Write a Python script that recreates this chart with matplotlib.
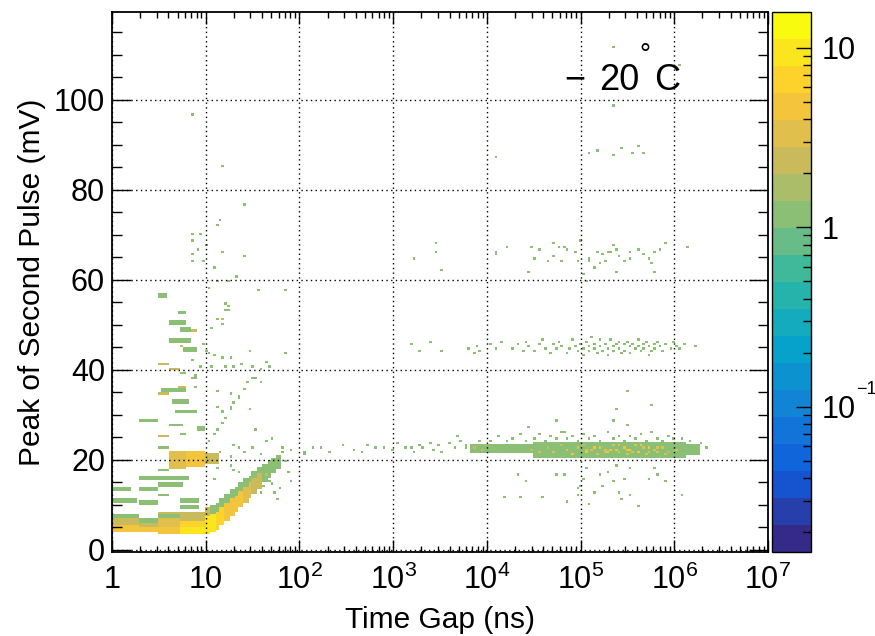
import numpy as np
import matplotlib
matplotlib.use('Agg')
import matplotlib.pyplot as plt
from matplotlib.colors import LinearSegmentedColormap, ListedColormap, LogNorm
from matplotlib.ticker import LogLocator, MultipleLocator, NullFormatter
from matplotlib.transforms import blended_transform_factory

plt.rcParams['font.family'] = ['Liberation Sans', 'DejaVu Sans']
plt.rcParams['mathtext.fontset'] = 'custom'
plt.rcParams['mathtext.rm'] = 'Liberation Sans'
plt.rcParams['mathtext.it'] = 'Liberation Sans:italic'

# ---- data ----------------------------------------------------------------
# gap is stored as log10(time gap / ns), peak in mV

# filled blocks: (lg0, lg1, v0, v1, entries per cell)
box_lg0 = [0.00, 0.00, 0.00, 0.30, 0.30, 0.30, 0.49, 0.49, 0.49, 0.74, 0.74, 0.74,
           1.00, 1.00, 1.05, 1.05, 1.10, 1.10, 1.15, 1.15, 1.20, 1.20, 1.25, 1.25,
           1.30, 1.30, 1.35, 1.35, 1.40, 1.40, 1.45, 1.45, 1.50, 1.50, 1.55, 1.55,
           1.60, 1.65, 1.70, 1.75,
           0.60, 0.78, 1.00,
           0.50, 0.70, 0.61, 0.72, 0.86, 0.61, 0.72, 0.76, 0.50, 0.62, 0.72, 0.85,
           0.70, 0.53, 0.50, 0.64, 0.67, 0.30, 0.90, 0.50, 0.72, 0.50, 0.30, 0.49,
           0.30, 0.00, 0.72, 0.30, 0.72, 0.49, 0.50, 0.00, 0.49, 0.62,
           3.82, 4.50, 6.12]
box_lg1 = [0.30, 0.30, 0.30, 0.49, 0.49, 0.49, 0.74, 0.74, 0.74, 1.00, 1.00, 1.00,
           1.05, 1.05, 1.10, 1.10, 1.15, 1.15, 1.20, 1.20, 1.25, 1.25, 1.30, 1.30,
           1.35, 1.35, 1.40, 1.40, 1.45, 1.45, 1.50, 1.50, 1.55, 1.55, 1.60, 1.60,
           1.65, 1.70, 1.75, 1.80,
           0.78, 1.00, 1.15,
           0.57, 0.80, 0.80, 0.86, 0.90, 0.85, 0.76, 0.90, 0.60, 0.72, 0.80, 0.90,
           0.80, 0.80, 0.62, 0.82, 0.90, 0.50, 1.00, 0.62, 0.78, 0.62, 0.82, 0.77,
           0.50, 0.27, 0.94, 0.50, 0.94, 0.72, 0.62, 0.20, 0.60, 0.75,
           4.50, 6.12, 6.27]
box_v0 = [7.0, 5.5, 4.0, 6.0, 5.0, 4.0, 7.0, 5.0, 3.5, 6.5, 5.0, 3.5,
          7.5, 3.5, 8.0, 4.0, 8.5, 4.5, 9.5, 5.5, 10.5, 6.5, 11.5, 7.5,
          12.0, 8.5, 13.0, 9.5, 14.0, 10.5, 15.0, 11.5, 16.0, 12.5, 17.0, 13.5,
          15.0, 16.0, 17.0, 18.0,
          18.0, 18.5, 19.0,
          56.2, 52.6, 49.8, 48.5, 48.3, 46.0, 45.0, 44.0, 41.0, 40.0, 39.0, 37.8,
          36.0, 35.0, 34.3, 32.3, 30.3, 28.3, 26.7, 25.0, 25.5, 17.3, 15.7, 14.2,
          13.2, 10.7, 10.7, 10.2, 9.2, 8.0, 22.3, 13.2, 12.0, 27.3,
          21.5, 20.5, 21.0]
box_v1 = [8.0, 7.0, 5.5, 7.0, 6.0, 5.0, 8.5, 7.0, 5.0, 8.5, 6.5, 5.0,
          9.5, 7.5, 10.0, 8.0, 10.5, 8.5, 11.5, 9.5, 12.5, 10.5, 13.5, 11.5,
          14.0, 12.0, 15.0, 13.0, 16.0, 14.0, 16.5, 15.0, 17.5, 16.0, 18.5, 17.0,
          19.0, 20.0, 20.5, 21.0,
          22.0, 22.0, 21.5,
          56.8, 53.2, 50.8, 49.3, 48.8, 46.8, 45.6, 45.0, 41.6, 40.6, 39.6, 38.3,
          36.6, 35.8, 34.8, 33.5, 31.0, 29.0, 27.3, 25.6, 26.1, 17.8, 16.3, 14.8,
          13.8, 11.3, 11.3, 10.8, 9.8, 8.6, 22.8, 13.8, 12.5, 27.8,
          23.5, 24.0, 23.5]
box_n = [1, 2, 4, 1, 2, 4, 1, 3, 5, 2, 6, 9,
         2, 9, 1, 8, 1, 7, 1, 6, 1, 5, 1, 5,
         1, 4, 1, 4, 1, 3, 1, 3, 1, 2, 1, 2,
         1, 1, 1, 1,
         3, 4, 2,
         1, 1, 1, 1, 2, 1, 2, 1, 2, 2, 1, 1,
         2, 1, 2, 1, 1, 1, 1, 2, 1, 1, 1, 1,
         1, 1, 1, 1, 1, 1, 1, 1, 1, 1,
         1, 1, 1]

# single entries, short gaps (< 100 ns)
short_lg = [1.03, 1.57, 1.25, 1.23, 1.13, 1.19, 1.17, 1.06, 0.98, 1.01, 1.03, 1.10,
            1.17, 1.26, 1.47, 1.86, 1.66, 0.87, 0.96, 1.07, 1.21, 1.31, 1.38, 1.49,
            1.58, 1.69, 0.886, 0.88, 1.13, 1.26, 1.37, 1.42, 1.49, 1.54, 1.60, 1.44,
            1.35, 1.28, 1.47, 1.13, 1.19, 1.295, 1.26, 1.224, 1.19, 1.13, 1.08, 1.045,
            1.54, 1.65, 1.72, 1.81, 1.83, 1.51, 1.58, 1.295, 1.37, 1.42, 1.26, 1.15,
            1.26, 1.295, 1.37, 1.12, 1.08, 1.65, 1.69, 1.74, 1.76, 1.62, 1.58, 2.15,
            2.06, 1.86, 1.22, 1.21, 1.18, 0.868, 1.188, 1.419, 1.16, 1.135, 0.87, 0.94,
            0.87, 0.92, 1.01, 0.87, 0.98, 1.08, 0.87, 1.18, 1.23, 1.33, 1.42, 0.72, 1.13,
            1.84, 1.88, 1.92, 1.79, 1.70]
short_v = [58.2, 57.7, 54.3, 53.0, 51.0, 51.0, 50.3, 49.3, 45.8, 44.4, 43.9, 43.3,
           42.5, 42.9, 44.4, 43.6, 41.8, 42.1, 40.7, 40.5, 40.5, 40.5, 41.4, 40.5,
           40.3, 40.9, 38.5, 36.2, 35.1, 34.8, 34.4, 35.9, 38.1, 38.1, 37.3, 37.3,
           33.6, 31.8, 31.4, 31.8, 30.7, 32.9, 31.0, 29.1, 28.0, 26.9, 25.8, 24.3,
           26.9, 24.3, 24.7, 22.9, 21.7, 22.5, 21.3, 23.3, 22.9, 21.8, 20.7, 21.5,
           18.9, 17.8, 17.0, 18.1, 15.8, 16.7, 15.2, 12.9, 11.4, 14.4, 12.9, 22.9,
           21.3, 57.8, 54.7, 53.0, 51.0, 96.9, 85.4, 76.9, 73.4, 72.1, 70.0, 70.0,
           68.5, 66.8, 67.8, 65.6, 64.3, 62.8, 64.1, 66.2, 59.6, 60.5, 65.3, 59.6, 59.6,
           19.6, 17.2, 15.4, 13.9, 14.6]

# single entries around 22 mV between 100 ns and 10 us
mid_lg = [1.90, 2.05, 2.22, 2.31, 2.45, 2.58, 2.66, 2.74, 2.82, 2.91, 3.00, 3.06,
          3.13, 3.18, 3.23, 3.29, 3.32, 3.39, 3.43, 3.48, 3.52, 3.61, 3.66, 3.70,
          3.73, 3.77, 3.79]
mid_v = [22.4, 21.6, 22.9, 21.9, 23.1, 22.2, 21.7, 23.4, 22.5, 22.9, 22.2, 23.7,
         22.9, 22.5, 21.8, 23.3, 22.5, 23.7, 22.2, 23.3, 21.8, 23.7, 22.9, 25.1,
         24.0, 22.5, 23.3]

# single entries on the edges of the 22 mV band and below it
band_lg = [3.87, 3.91, 3.95, 3.98, 4.05, 4.12, 4.20, 4.28, 4.35, 4.42, 4.50, 4.57,
           4.62, 4.68, 4.75, 4.80, 4.86, 4.92, 4.98, 5.04, 5.10, 5.16, 5.22, 5.28,
           5.34, 5.40, 5.46, 5.52, 5.58, 5.64, 5.70, 5.76, 5.82, 5.88, 5.94, 6.00,
           6.08, 6.18, 6.28, 6.35, 4.746, 5.51, 5.368, 5.77, 5.34, 5.49, 4.443, 4.835,
           4.32, 4.41, 4.73, 4.835, 4.96, 4.995, 5.03, 5.21, 5.28, 5.35, 5.386, 5.475,
           5.53, 5.42, 5.72, 5.777, 5.81, 5.92, 4.977, 4.176, 4.603, 5.155, 5.53, 6.08,
           5.24, 5.066, 4.37, 4.85, 5.10, 5.45, 5.62]
band_v = [22.9, 24.0, 22.2, 23.3, 24.3, 25.0, 24.4, 24.8, 25.5, 24.2, 24.6, 25.8,
          24.4, 25.1, 24.5, 26.0, 24.7, 25.3, 24.3, 25.7, 24.6, 25.2, 24.4, 26.2,
          24.8, 25.4, 24.3, 25.0, 24.6, 25.6, 24.4, 26.1, 24.9, 24.3, 25.2, 24.5,
          24.9, 24.2, 23.7, 22.5, 28.8, 35.1, 31.0, 32.0, 28.8, 27.7, 27.1, 26.4,
          16.8, 15.2, 16.5, 16.5, 13.7, 14.4, 15.9, 16.6, 17.0, 15.2, 18.5, 15.5,
          18.1, 12.9, 15.9, 18.1, 16.8, 15.2, 12.2, 11.8, 11.8, 12.6, 12.2, 12.2,
          14.4, 18.1, 11.8, 10.5, 10.2, 11.0, 9.8]

# cells with extra entries inside the 22 mV band
hot_lg = [4.48, 4.56, 4.64, 4.72, 4.79, 4.86, 4.92, 4.98, 5.03, 5.07, 5.12, 5.17,
          5.21, 5.26, 5.30, 5.34, 5.38, 5.42, 5.46, 5.50, 5.54, 5.58, 5.62, 5.66,
          5.70, 5.74, 5.78, 5.83, 5.88, 5.94, 6.01, 5.05, 5.15, 5.25, 5.33, 5.41,
          5.49, 5.57, 5.65, 5.73, 5.81, 5.90]
hot_v = [22.3, 21.6, 22.8, 21.9, 23.0, 22.1, 21.4, 22.6, 23.2, 21.8, 22.4, 21.2,
         22.9, 22.0, 21.5, 23.1, 22.2, 21.7, 22.7, 21.3, 22.4, 23.0, 21.9, 22.5,
         21.4, 22.8, 22.0, 21.6, 22.6, 21.8, 22.3, 22.0, 22.9, 21.6, 22.4, 23.3,
         22.1, 21.5, 23.2, 21.9, 22.7, 21.4]
hot_n = [1, 2, 1, 2, 1, 2, 3, 2, 1, 3, 2, 2,
         3, 2, 3, 2, 3, 2, 3, 2, 3, 2, 3, 2,
         2, 3, 2, 2, 2, 1, 2, 2, 3, 2, 3, 2,
         3, 2, 3, 2, 2, 2]

# single entries in the 45 mV band
b45_lg = [3.19, 3.28, 3.40, 3.51, 3.80, 3.85, 3.90, 3.93, 4.05, 4.10, 4.15, 4.28,
          4.33, 4.38, 4.43, 4.46, 4.52, 4.55, 4.60, 4.63, 4.67, 4.70, 4.74, 4.78,
          4.81, 4.85, 4.88, 4.91, 4.94, 4.97, 5.00, 5.02, 5.04, 5.06, 5.08, 5.10,
          5.12, 5.14, 5.16, 5.18, 5.20, 5.22, 5.24, 5.26, 5.28, 5.30, 5.32, 5.34,
          5.36, 5.38, 5.40, 5.42, 5.44, 5.46, 5.48, 5.50, 5.52, 5.54, 5.56, 5.58,
          5.60, 5.62, 5.64, 5.66, 5.68, 5.70, 5.72, 5.74, 5.76, 5.78, 5.80, 5.83,
          5.86, 5.89, 5.92, 5.95, 5.98, 6.02, 6.06, 6.12, 6.24]
b45_v = [45.7, 44.2, 46.2, 44.2, 44.5, 43.5, 45.0, 44.0, 45.5, 44.5, 46.0, 44.8,
         45.6, 44.0, 46.4, 45.0, 44.3, 45.6, 46.8, 44.8, 43.5, 45.9, 44.6, 46.4,
         45.2, 43.9, 44.9, 46.7, 45.4, 44.2, 45.9, 43.3, 44.8, 46.2, 45.3, 44.1,
         47.3, 45.8, 44.6, 43.6, 46.5, 45.1, 44.3, 45.9, 43.2, 44.8, 46.8, 45.4,
         44.1, 45.7, 46.3, 44.7, 43.6, 45.5, 44.4, 46.1, 45.0, 43.8, 45.8, 44.5,
         46.6, 45.2, 44.0, 45.6, 44.8, 46.2, 43.4, 45.1, 44.3, 45.9, 44.7, 46.4,
         45.3, 44.2, 45.7, 44.9, 46.0, 45.2, 44.5, 45.6, 45.4]

# single entries above 60 mV at long gaps
high_lg = [3.447, 3.465, 3.209, 3.508, 4.087, 4.105, 4.212, 4.468, 4.514, 4.55, 4.45, 4.64,
           4.703, 4.703, 4.78, 4.817, 4.81, 4.87, 4.94, 4.977, 5.01, 5.03, 5.06, 5.08,
           5.10, 5.137, 5.18, 5.21, 5.237, 5.26, 5.297, 5.315, 5.35, 5.386, 5.386, 5.414,
           5.457, 5.52, 5.536, 5.60, 5.67, 5.724, 5.75, 5.777, 5.795, 5.84, 5.92, 6.133,
           4.09, 5.10, 5.18, 5.34, 5.45, 5.55, 5.62, 5.68, 5.34, 6.04, 5.34]
high_v = [68.0, 66.2, 64.9, 62.3, 66.2, 65.8, 67.4, 67.4, 64.9, 66.6, 61.9, 64.3,
          68.0, 65.4, 67.4, 67.4, 64.3, 66.6, 66.2, 64.3, 68.9, 61.4, 59.5, 64.3,
          64.9, 62.7, 66.2, 63.6, 65.8, 64.3, 66.2, 66.2, 67.7, 66.6, 61.9, 65.1,
          64.0, 66.2, 64.7, 66.6, 65.8, 64.9, 63.6, 61.9, 66.2, 66.6, 68.0, 67.4,
          87.3, 88.0, 88.8, 87.6, 89.3, 88.1, 89.6, 88.4, 111.5, 107.6, 98.6]

z_min, z_max = 0.0155, 15.8

# ---- histogram ------------------------------------------------------------
lg_edges = np.linspace(0, 7, 241)
v_edges = np.linspace(-0.5, 119.5, 241)
lg_mid = 0.5 * (lg_edges[1:] + lg_edges[:-1])
v_mid = 0.5 * (v_edges[1:] + v_edges[:-1])

counts = np.zeros((len(v_mid), len(lg_mid)))
for a, b, c, d, n in zip(box_lg0, box_lg1, box_v0, box_v1, box_n):
    sel_x = (lg_mid >= a) & (lg_mid < b)
    sel_y = (v_mid >= c) & (v_mid < d)
    counts[np.ix_(sel_y, sel_x)] += n

pts_lg = short_lg + mid_lg + band_lg + hot_lg + b45_lg + high_lg
pts_v = short_v + mid_v + band_v + hot_v + b45_v + high_v
pts_w = ([1] * len(short_lg) + [1] * len(mid_lg) + [1] * len(band_lg) + hot_n
         + [1] * len(b45_lg) + [1] * len(high_lg))
h, _, _ = np.histogram2d(pts_v, pts_lg, bins=[v_edges, lg_edges], weights=pts_w)
counts += h
counts = np.ma.masked_equal(counts, 0)

# ROOT kBird palette, 20 contour levels
stops = [0.0, 0.125, 0.25, 0.375, 0.5, 0.625, 0.75, 0.875, 1.0]
red = [0.2082, 0.0592, 0.0780, 0.0232, 0.1802, 0.5301, 0.8186, 0.9956, 0.9764]
green = [0.1664, 0.3599, 0.5041, 0.6419, 0.7178, 0.7492, 0.7328, 0.7862, 0.9832]
blue = [0.5293, 0.8684, 0.8385, 0.7914, 0.6425, 0.4662, 0.3499, 0.1968, 0.0539]
bird = LinearSegmentedColormap.from_list(
    'bird', list(zip(stops, zip(red, green, blue))))
cmap = ListedColormap([bird(i / 19) for i in range(20)])

fig = plt.figure(figsize=(8.75, 6.36), dpi=100)
ax = fig.add_axes([112 / 875, 84 / 636, 656 / 875, 540 / 636])
mesh = ax.pcolormesh(10 ** lg_edges, v_edges, counts, cmap=cmap,
                     norm=LogNorm(z_min, z_max))

ax.set_xscale('log')
ax.set_xlim(1, 1e7)
ax.set_ylim(-0.5, 119.5)
ax.set_xticks([1, 10, 1e2, 1e3, 1e4, 1e5, 1e6, 1e7],
              labels=['1', '10', '$10^{2}$', '$10^{3}$', '$10^{4}$', '$10^{5}$',
                      '$10^{6}$', '$10^{7}$'])
ax.xaxis.set_minor_locator(LogLocator(base=10, subs=np.arange(2, 10), numticks=100))
ax.xaxis.set_minor_formatter(NullFormatter())
ax.set_yticks([0, 20, 40, 60, 80, 100])
ax.yaxis.set_minor_locator(MultipleLocator(5))
ax.tick_params(which='both', direction='in', top=True, right=True, labelsize=22,
               width=1)
ax.tick_params(axis='x', which='major', length=8.5, pad=9)
ax.tick_params(axis='x', which='minor', length=4)
ax.tick_params(axis='y', which='major', length=14, pad=5)
ax.tick_params(axis='y', which='minor', length=7)
ax.grid(True, which='major', color='k', linestyle=(0, (1, 2.4)), linewidth=1)
ax.set_axisbelow(False)
for s in ax.spines.values():
    s.set_linewidth(1.3)

ax.set_xlabel('Time Gap (ns)', fontsize=21.5)
ax.set_ylabel('Peak of Second Pulse (mV)', fontsize=21.5)
ax.xaxis.set_label_coords(0.5, -0.1)
ax.yaxis.set_label_coords(-0.1, 0.5)

ax.text(0.706, 0.874, '\u2212', transform=ax.transAxes, fontsize=26,
        ha='center', va='center')
ax.text(0.774, 0.874, '20', transform=ax.transAxes, fontsize=26,
        ha='center', va='center')
ax.text(0.812, 0.918, '\u00b0', transform=ax.transAxes, fontsize=20,
        ha='center', va='center')
ax.text(0.846, 0.874, 'C', transform=ax.transAxes, fontsize=26,
        ha='center', va='center')

cax = fig.add_axes([772 / 875, 84 / 636, 39 / 875, 540 / 636])
cb = fig.colorbar(mesh, cax=cax)
cb.outline.set_linewidth(1)
cax.set_yticks([0.1, 1, 10], labels=['10', '1', '10'])
cax.yaxis.set_minor_locator(LogLocator(base=10, subs=np.arange(2, 10), numticks=100))
cax.yaxis.set_minor_formatter(NullFormatter())
cax.tick_params(which='both', direction='in', right=True, left=False,
                labelsize=22, width=1, pad=8)
cax.tick_params(which='major', length=11)
cax.tick_params(which='minor', length=6)
# small exponent of the 10^-1 label
cax.annotate('\u22121', xy=(2.16, 0.1),
             xycoords=blended_transform_factory(cax.transAxes, cax.transData),
             xytext=(0, 6), textcoords='offset points', fontsize=13,
             ha='left', va='bottom', annotation_clip=False)

fig.savefig('out.png', dpi=100, facecolor='white')
